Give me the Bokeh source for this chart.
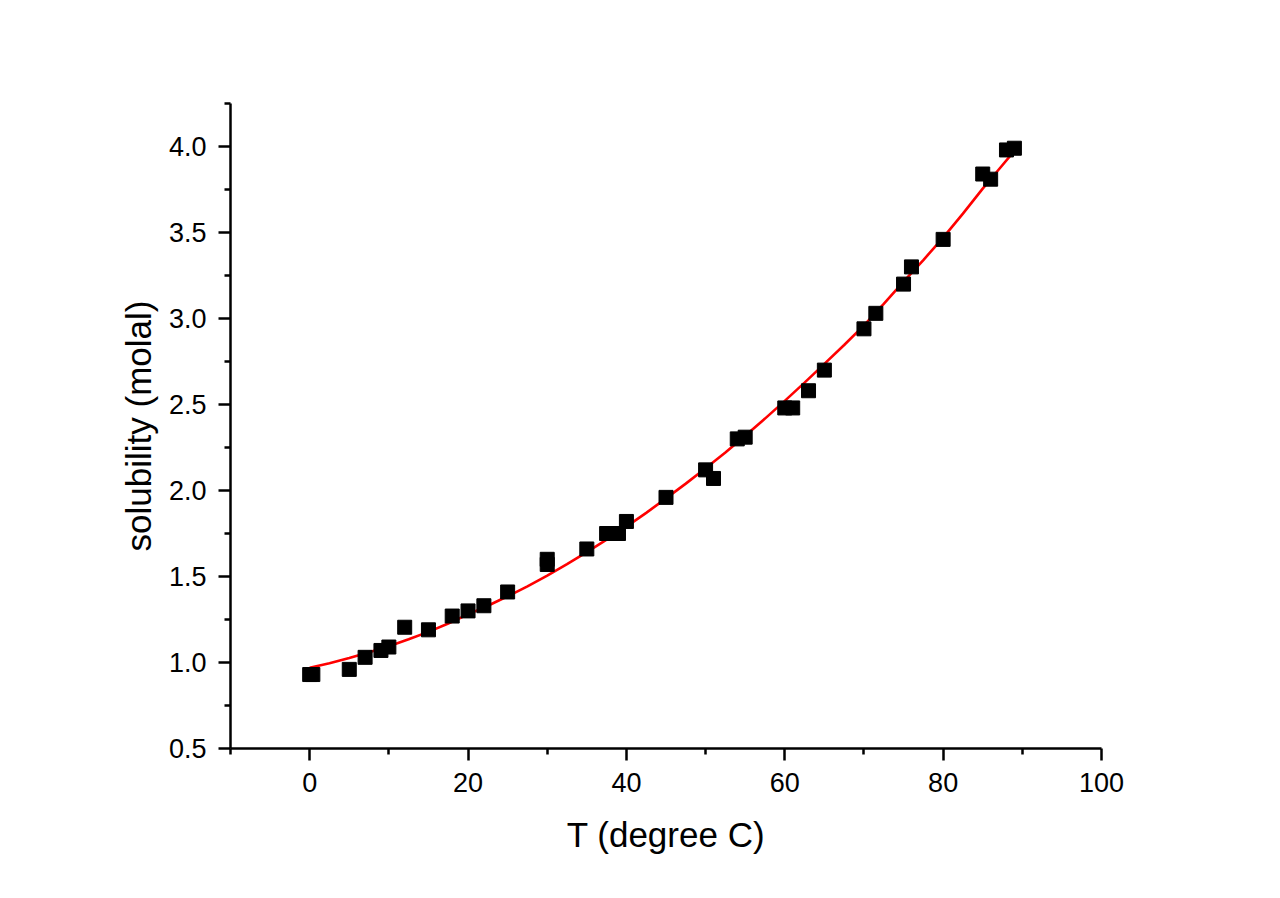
from bokeh.plotting import figure
from bokeh.embed import file_html
from bokeh.resources import INLINE
from bokeh.models import FixedTicker, Range1d, CustomJSTickFormatter

# measured data: temperature (degree C) and solubility (molal)
temp = [0, 0.4, 5, 7, 9, 10, 12, 15, 18, 20, 22, 25, 30, 30, 35, 37.5, 39, 40,
        45, 50, 51, 54, 55, 60, 61, 63, 65, 70, 71.5, 75, 76, 80, 85, 86, 88, 89]
solub = [0.93, 0.93, 0.96, 1.03, 1.07, 1.09, 1.205, 1.19, 1.27, 1.30, 1.33, 1.41,
         1.60, 1.57, 1.66, 1.75, 1.75, 1.82, 1.96, 2.12, 2.07, 2.30, 2.31, 2.48,
         2.48, 2.58, 2.70, 2.94, 3.03, 3.20, 3.30, 3.46, 3.84, 3.81, 3.98, 3.99]

# fitted curve
fit_t = [0, 2.5, 5, 7.5, 10, 12.5, 15, 17.5, 20, 22.5, 25, 27.5, 30, 32.5, 35,
         37.5, 40, 42.5, 45, 47.5, 50, 52.5, 55, 57.5, 60, 62.5, 65, 67.5, 70,
         72.5, 75, 77.5, 80, 82.5, 85, 87, 89]
fit_s = [0.970, 0.996, 1.026, 1.059, 1.095, 1.135, 1.178, 1.227, 1.280, 1.330,
         1.385, 1.443, 1.505, 1.572, 1.642, 1.714, 1.790, 1.870, 1.954, 2.040,
         2.129, 2.221, 2.318, 2.418, 2.521, 2.627, 2.736, 2.846, 2.960, 3.085,
         3.215, 3.340, 3.470, 3.610, 3.755, 3.865, 3.975]

x_major = [0, 20, 40, 60, 80, 100]
x_minor = [-10, 10, 30, 50, 70, 90]
y_major = [0.5, 1.0, 1.5, 2.0, 2.5, 3.0, 3.5, 4.0]
y_minor = [0.75, 1.25, 1.75, 2.25, 2.75, 3.25, 3.75, 4.25]

p = figure(width=1280, height=898, frame_width=871, frame_height=645,
           output_backend="svg", toolbar_location=None,
           x_range=Range1d(-10, 100), y_range=Range1d(0.5, 4.25),
           min_border_left=230, min_border_right=179,
           min_border_top=103, min_border_bottom=150)
p.outline_line_color = None
p.xgrid.grid_line_color = None
p.ygrid.grid_line_color = None
p.background_fill_color = "white"
p.border_fill_color = "white"

p.line(fit_t, fit_s, color="#ff0000", line_width=2.6)
p.scatter(temp, solub, marker="square", size=14, color="black")

p.xaxis.ticker = FixedTicker(ticks=x_major, minor_ticks=x_minor)
p.yaxis.ticker = FixedTicker(ticks=y_major, minor_ticks=y_minor)
p.yaxis.formatter = CustomJSTickFormatter(code="return tick.toFixed(1);")

p.xaxis.axis_label = "T (degree C)"
p.yaxis.axis_label = "solubility (molal)"
for ax in (p.xaxis, p.yaxis):
    ax.axis_line_width = 2.5
    ax.axis_line_color = "black"
    ax.major_tick_line_width = 2.5
    ax.minor_tick_line_width = 2.5
    ax.major_tick_line_color = "black"
    ax.minor_tick_line_color = "black"
    ax.major_tick_in = 0
    ax.major_tick_out = 12
    ax.minor_tick_in = 0
    ax.minor_tick_out = 6
    ax.major_label_text_font = "Liberation Sans"
    ax.major_label_text_font_size = "27px"
    ax.major_label_text_color = "black"
    ax.axis_label_text_font = "Liberation Sans"
    ax.axis_label_text_font_size = "35px"
    ax.axis_label_text_font_style = "normal"
    ax.axis_label_text_color = "black"
p.xaxis.major_label_standoff = 12
p.yaxis.major_label_standoff = 12
p.xaxis.axis_label_standoff = 20
p.yaxis.axis_label_standoff = 8

open("out.html", "w").write(file_html(p, INLINE))
